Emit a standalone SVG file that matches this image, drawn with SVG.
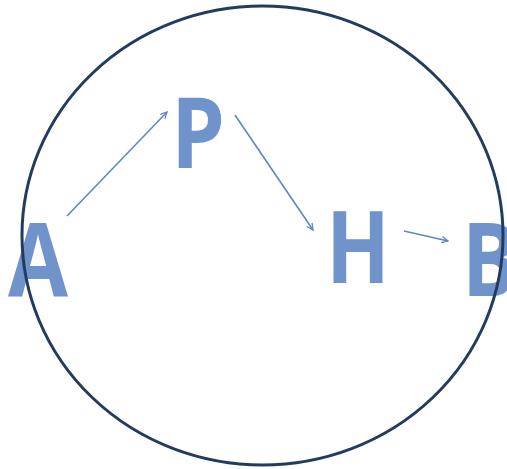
<svg xmlns="http://www.w3.org/2000/svg" width="507" height="469" viewBox="0 0 507 469">
<defs>
<style>
.lbl{font-family:"Open Sans","Liberation Sans",sans-serif;font-weight:bold;fill:#7193cb;}
.con{stroke:#5d87c6;stroke-width:1.6;fill:none;marker-end:url(#ah);}
</style>
<marker id="ah" viewBox="0 0 10 10" refX="9" refY="5" markerWidth="8" markerHeight="8" markerUnits="userSpaceOnUse" orient="auto">
<path d="M1,1 L9,5 L1,9" fill="none" stroke="#5d87c6" stroke-width="1.6"/>
</marker>
</defs>
<rect width="507" height="469" fill="#ffffff"/>
<g id="A"><text class="lbl" x="8" y="296" font-size="102" textLength="60" lengthAdjust="spacingAndGlyphs">A</text></g>
<g id="P"><text class="lbl" x="171" y="168" font-size="98" textLength="54" lengthAdjust="spacingAndGlyphs">P</text></g>
<g id="H"><text class="lbl" x="326" y="283" font-size="101" textLength="64" lengthAdjust="spacingAndGlyphs">H</text></g>
<g id="B"><text class="lbl" x="462" y="296" font-size="102" textLength="56" lengthAdjust="spacingAndGlyphs">B</text></g>
<g id="circle"><ellipse cx="262.5" cy="235.5" rx="240.5" ry="229.5" fill="none" stroke="#223c5e" stroke-width="3"/></g>
<g id="connectors">
<line class="con" x1="67" y1="216" x2="167" y2="112"/>
<line class="con" x1="235" y1="115" x2="313" y2="230"/>
<line class="con" x1="404" y1="231" x2="448" y2="241"/>
</g>
</svg>
